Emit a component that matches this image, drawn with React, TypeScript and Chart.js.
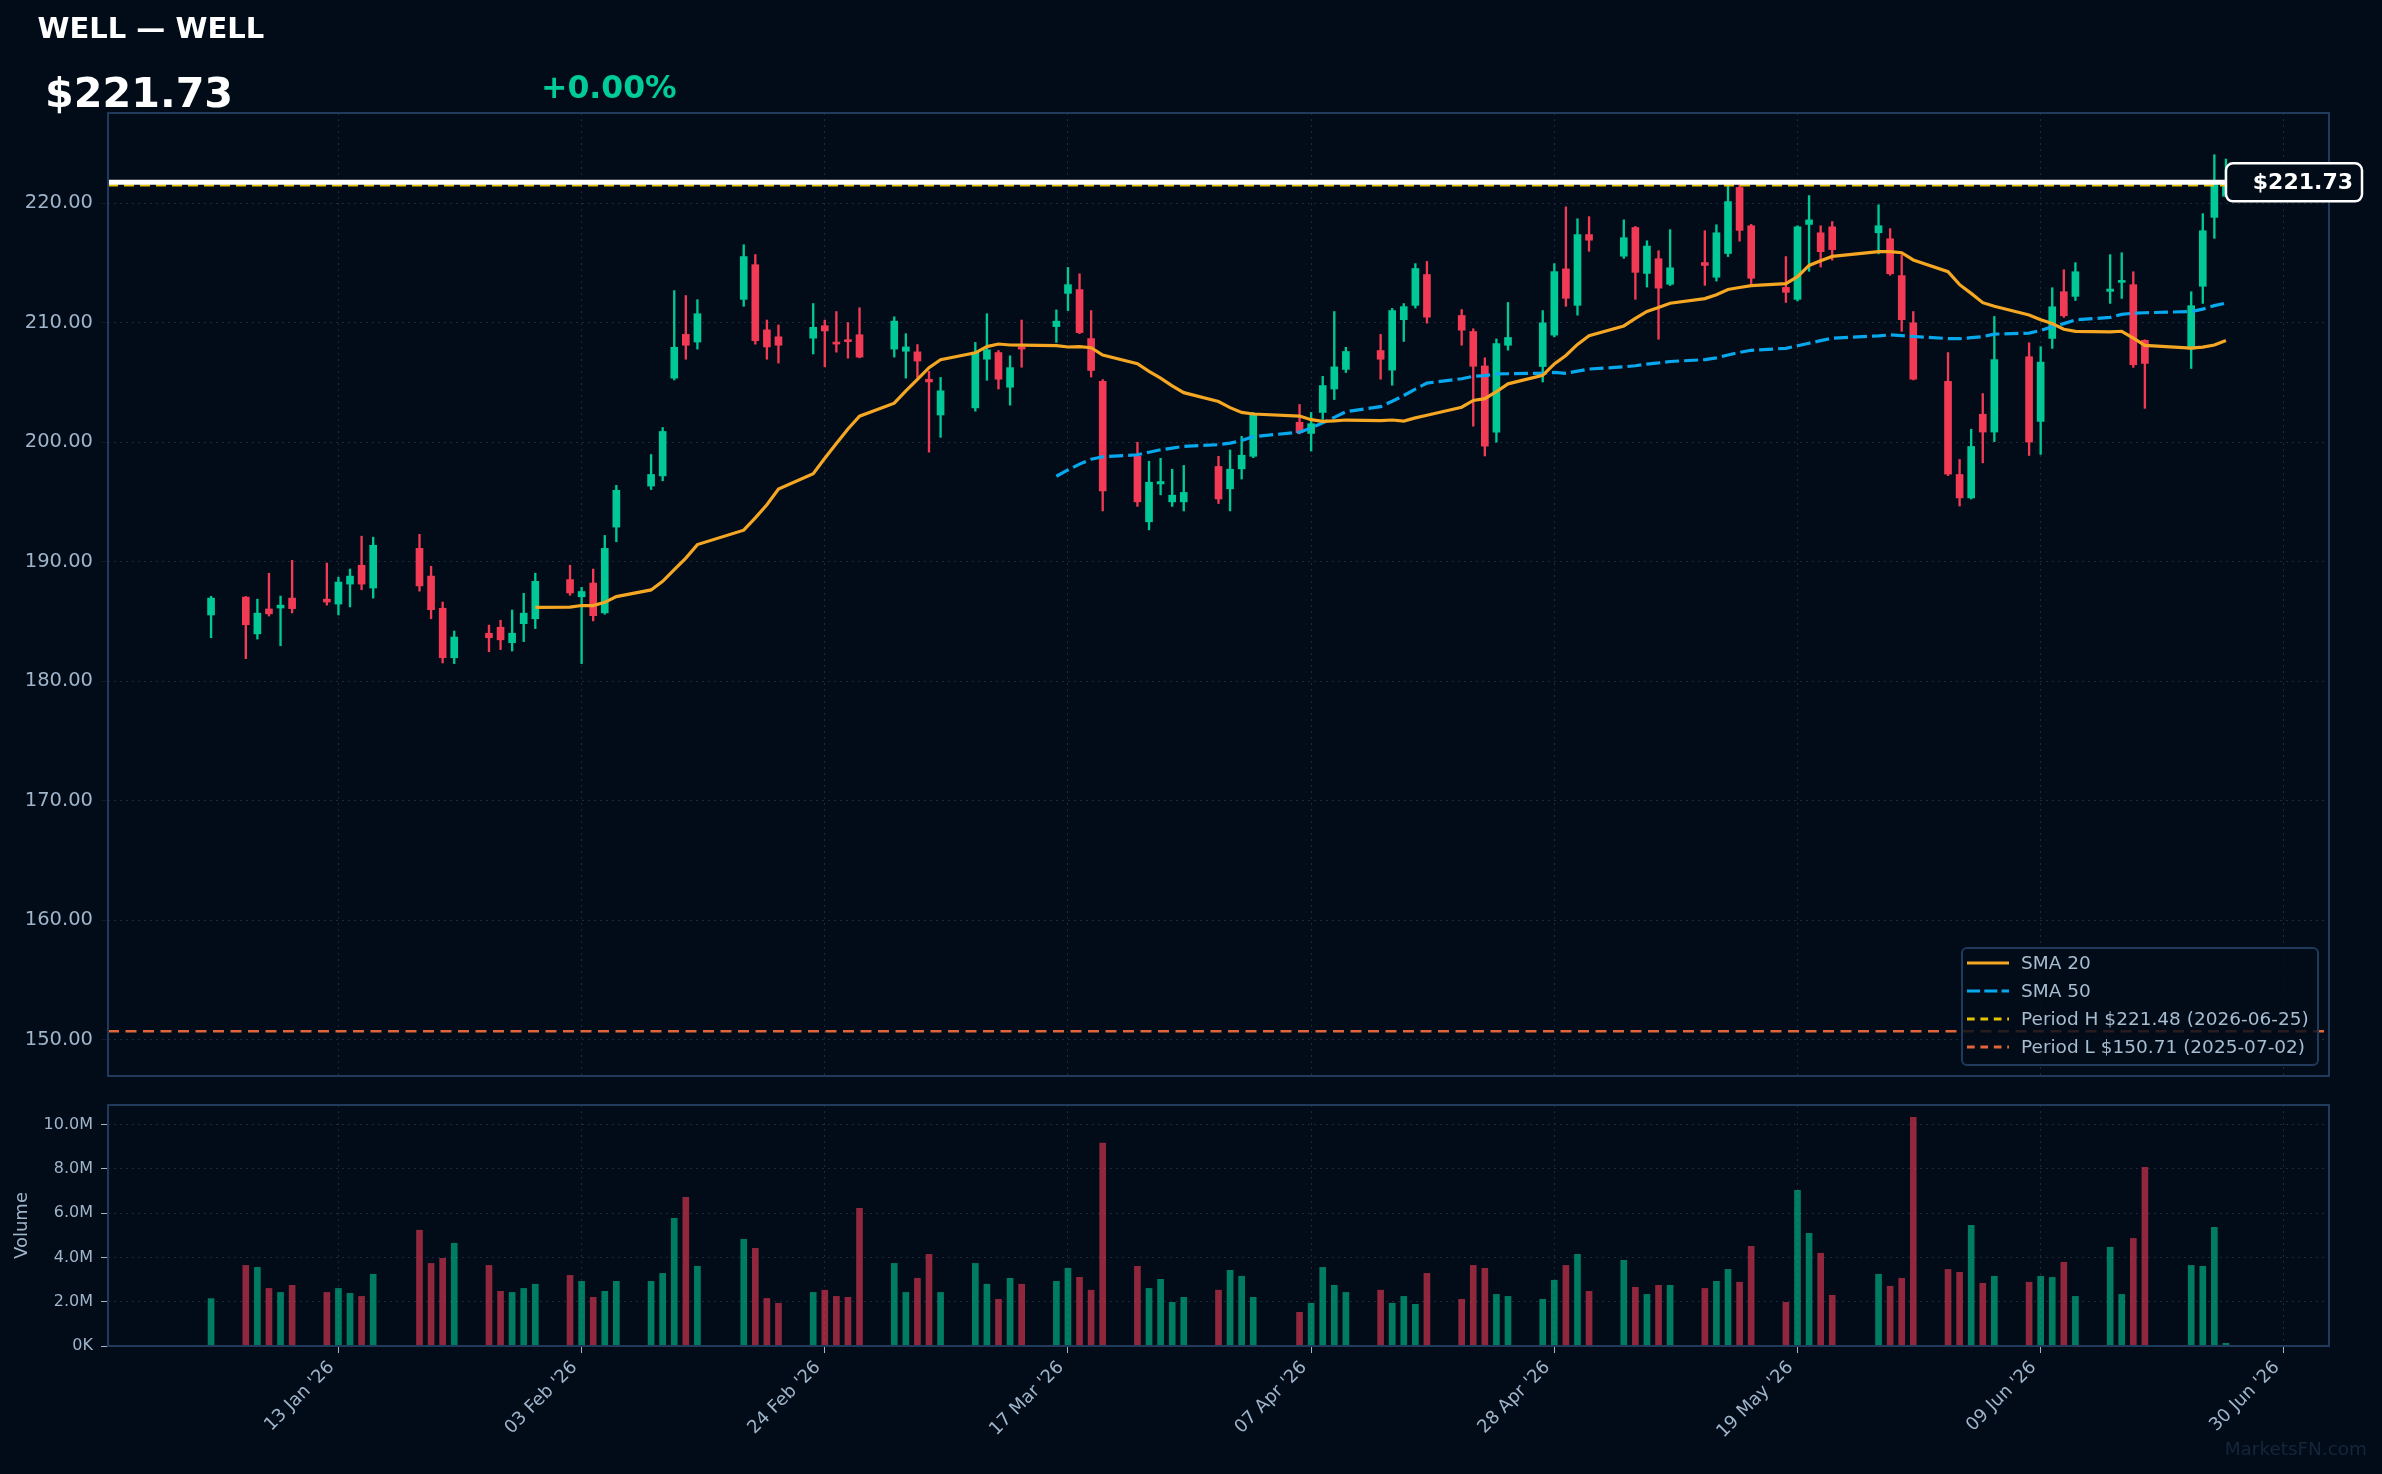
import React, { useEffect, useRef } from "react";
import { Chart, registerables } from "chart.js";

Chart.register(...registerables);

// ---------------- data ----------------
const tradeDates = [
  "2026-01-02", "2026-01-05", "2026-01-06", "2026-01-07", "2026-01-08", "2026-01-09",
  "2026-01-12", "2026-01-13", "2026-01-14", "2026-01-15", "2026-01-16",
  "2026-01-20", "2026-01-21", "2026-01-22", "2026-01-23",
  "2026-01-26", "2026-01-27", "2026-01-28", "2026-01-29", "2026-01-30",
  "2026-02-02", "2026-02-03", "2026-02-04", "2026-02-05", "2026-02-06",
  "2026-02-09", "2026-02-10", "2026-02-11", "2026-02-12", "2026-02-13",
  "2026-02-17", "2026-02-18", "2026-02-19", "2026-02-20",
  "2026-02-23", "2026-02-24", "2026-02-25", "2026-02-26", "2026-02-27",
  "2026-03-02", "2026-03-03", "2026-03-04", "2026-03-05", "2026-03-06",
  "2026-03-09", "2026-03-10", "2026-03-11", "2026-03-12", "2026-03-13",
  "2026-03-16", "2026-03-17", "2026-03-18", "2026-03-19", "2026-03-20",
  "2026-03-23", "2026-03-24", "2026-03-25", "2026-03-26", "2026-03-27",
  "2026-03-30", "2026-03-31", "2026-04-01", "2026-04-02",
  "2026-04-06", "2026-04-07", "2026-04-08", "2026-04-09", "2026-04-10",
  "2026-04-13", "2026-04-14", "2026-04-15", "2026-04-16", "2026-04-17",
  "2026-04-20", "2026-04-21", "2026-04-22", "2026-04-23", "2026-04-24",
  "2026-04-27", "2026-04-28", "2026-04-29", "2026-04-30", "2026-05-01",
  "2026-05-04", "2026-05-05", "2026-05-06", "2026-05-07", "2026-05-08",
  "2026-05-11", "2026-05-12", "2026-05-13", "2026-05-14", "2026-05-15",
  "2026-05-18", "2026-05-19", "2026-05-20", "2026-05-21", "2026-05-22",
  "2026-05-26", "2026-05-27", "2026-05-28", "2026-05-29",
  "2026-06-01", "2026-06-02", "2026-06-03", "2026-06-04", "2026-06-05",
  "2026-06-08", "2026-06-09", "2026-06-10", "2026-06-11", "2026-06-12",
  "2026-06-15", "2026-06-16", "2026-06-17", "2026-06-18",
  "2026-06-22", "2026-06-23", "2026-06-24", "2026-06-25",
];

const openPrices = [
  185.54, 187.03, 183.96, 186.04, 186.12, 186.95,
  186.86, 186.45, 188.12, 189.70, 187.79,
  191.11, 188.79, 186.10, 181.96,
  184.01, 184.51, 183.22, 184.81, 185.22,
  188.50, 187.06, 188.21, 185.71, 192.89,
  196.32, 197.17, 205.35, 209.01, 208.37,
  211.94, 214.84, 209.39, 208.81,
  208.69, 209.74, 208.30, 208.50, 208.98,
  207.78, 207.60, 207.55, 205.26, 202.27,
  202.86, 206.93, 207.49, 204.59, 207.90,
  209.66, 212.44, 212.76, 208.66, 205.08,
  198.81, 193.33, 196.50, 195.00, 195.00,
  197.96, 196.09, 197.76, 198.81,
  201.66, 200.72, 202.48, 204.44, 206.08,
  207.66, 206.02, 210.24, 211.44, 214.02,
  210.59, 209.25, 206.37, 200.84, 208.10,
  206.32, 208.95, 214.49, 211.44, 217.36,
  215.55, 217.95, 214.11, 215.34, 213.20,
  215.02, 213.79, 215.78, 221.30, 218.10,
  212.94, 211.94, 218.21, 217.51, 218.01,
  217.51, 217.01, 213.93, 209.98,
  205.08, 197.29, 195.33, 202.33, 200.84,
  207.14, 201.73, 208.67, 212.58, 212.19,
  212.61, 213.36, 213.17, 208.51,
  207.78, 213.03, 218.80, 220.56,
];

const highPrices = [
  187.10, 187.09, 186.86, 189.03, 187.12, 190.11,
  189.88, 188.70, 189.38, 192.13, 192.04,
  192.28, 189.61, 186.62, 184.19,
  184.69, 185.10, 185.95, 187.35, 189.03,
  189.70, 187.85, 189.38, 192.19, 196.38,
  198.96, 201.22, 212.67, 212.26, 211.91,
  216.51, 215.69, 210.21, 209.80,
  211.59, 210.21, 210.92, 210.00, 211.24,
  210.48, 209.07, 208.16, 205.93, 205.41,
  208.34, 210.74, 207.66, 207.22, 210.21,
  211.06, 214.61, 214.08, 211.00, 205.23,
  199.99, 198.40, 198.64, 197.73, 198.05,
  198.81, 199.34, 200.48, 202.48,
  203.15, 202.48, 205.50, 210.92, 207.93,
  209.01, 211.18, 211.59, 214.93, 215.11,
  211.09, 209.48, 207.05, 208.63, 211.68,
  211.00, 214.93, 219.68, 218.68, 218.86,
  218.59, 218.04, 216.84, 216.01, 217.77,
  217.68, 218.18, 221.60, 221.50, 218.21,
  215.52, 218.10, 220.62, 218.10, 218.45,
  219.85, 217.86, 215.66, 210.92,
  207.49, 198.55, 201.07, 204.06, 210.51,
  208.31, 207.98, 212.91, 214.42, 215.01,
  215.68, 215.84, 214.25, 208.56,
  212.58, 219.11, 224.04, 223.68,
];

const lowPrices = [
  183.63, 181.88, 183.52, 185.45, 182.96, 185.71,
  186.36, 185.54, 186.21, 187.65, 186.95,
  187.53, 185.22, 181.52, 181.47,
  182.46, 182.64, 182.52, 183.31, 184.40,
  187.18, 181.47, 185.04, 185.60, 191.66,
  196.03, 196.76, 205.20, 206.93, 207.78,
  211.36, 208.19, 206.93, 206.61,
  207.37, 206.29, 207.52, 207.02, 207.05,
  207.11, 205.35, 205.41, 199.16, 200.40,
  202.59, 205.17, 204.44, 203.09, 206.26,
  208.34, 211.00, 209.07, 205.44, 194.24,
  194.62, 192.66, 195.59, 194.62, 194.24,
  194.86, 194.24, 196.91, 198.70,
  200.69, 199.25, 201.89, 203.56, 205.82,
  205.26, 204.76, 208.42, 211.21, 209.95,
  208.10, 201.33, 198.84, 199.99, 207.69,
  205.03, 208.80, 211.36, 210.62, 215.96,
  215.37, 211.94, 212.97, 208.60, 213.10,
  213.11, 213.47, 215.52, 216.81, 213.26,
  211.68, 211.80, 214.29, 214.64, 215.22,
  215.75, 213.96, 209.27, 205.20,
  197.20, 194.65, 195.24, 198.26, 200.04,
  198.88, 198.97, 207.84, 210.43, 211.85,
  211.60, 212.02, 206.25, 202.82,
  206.16, 211.60, 217.04, 220.56,
];

const closePrices = [
  186.95, 184.72, 185.69, 185.63, 186.36, 186.07,
  186.62, 188.29, 188.79, 188.12, 191.37,
  187.97, 185.98, 181.96, 183.69,
  183.63, 183.46, 184.01, 185.69, 188.35,
  187.38, 187.50, 185.48, 191.11, 195.97,
  197.29, 200.89, 207.93, 208.10, 210.74,
  215.52, 208.48, 207.96, 208.10,
  209.60, 209.30, 208.20, 208.40, 207.11,
  210.12, 207.96, 206.78, 205.03, 204.29,
  207.52, 207.72, 205.26, 206.23, 207.78,
  210.12, 213.17, 209.16, 205.99, 195.91,
  195.00, 196.64, 196.70, 195.56, 195.79,
  195.24, 197.73, 198.90, 202.30,
  200.78, 201.54, 204.73, 206.29, 207.58,
  206.93, 211.00, 211.33, 214.52, 210.45,
  209.36, 206.34, 199.66, 208.25, 208.75,
  209.98, 214.26, 212.03, 217.36, 216.89,
  217.10, 214.20, 216.40, 212.88, 214.58,
  214.78, 217.51, 220.12, 217.71, 213.70,
  212.53, 218.01, 218.59, 215.93, 216.10,
  218.10, 214.08, 210.24, 205.26,
  197.32, 195.33, 199.63, 200.84, 206.90,
  200.00, 206.69, 211.32, 210.57, 214.25,
  212.80, 213.47, 206.47, 206.58,
  211.41, 217.68, 221.53, 221.73,
];

// volume in millions of shares
const volumeMillions = [
  2.14, 3.64, 3.55, 2.60, 2.42, 2.74,
  2.42, 2.60, 2.38, 2.24, 3.24,
  5.23, 3.73, 3.96, 4.64,
  3.64, 2.47, 2.42, 2.60, 2.79,
  3.19, 2.92, 2.20, 2.47, 2.92,
  2.92, 3.28, 5.77, 6.72, 3.60,
  4.82, 4.41, 2.15, 1.93,
  2.42, 2.52, 2.24, 2.20, 6.22,
  3.73, 2.42, 3.06, 4.14, 2.42,
  3.73, 2.79, 2.11, 3.06, 2.79,
  2.92, 3.51, 3.10, 2.52, 9.16,
  3.60, 2.60, 3.01, 1.97, 2.20,
  2.52, 3.42, 3.15, 2.20,
  1.52, 1.93, 3.55, 2.74, 2.42,
  2.52, 1.93, 2.24, 1.88, 3.28,
  2.11, 3.64, 3.51, 2.33, 2.24,
  2.11, 2.97, 3.64, 4.14, 2.47,
  3.87, 2.65, 2.33, 2.74, 2.74,
  2.60, 2.92, 3.46, 2.88, 4.50,
  1.97, 7.03, 5.09, 4.19, 2.29,
  3.24, 2.70, 3.06, 10.33,
  3.46, 3.33, 5.45, 2.83, 3.15,
  2.88, 3.15, 3.10, 3.78, 2.24,
  4.46, 2.33, 4.86, 8.07,
  3.64, 3.60, 5.36, 0.12,
];

const xTickDates = [
  "2026-01-13", "2026-02-03", "2026-02-24", "2026-03-17", "2026-04-07",
  "2026-04-28", "2026-05-19", "2026-06-09", "2026-06-30",
];
const xTickLabels = [
  "13 Jan '26", "03 Feb '26", "24 Feb '26", "17 Mar '26", "07 Apr '26",
  "28 Apr '26", "19 May '26", "09 Jun '26", "30 Jun '26",
];
const priceTicks = [150, 160, 170, 180, 190, 200, 210, 220];
const volumeTicksMillions = [0, 2, 4, 6, 8, 10];

const ticker = "WELL";
const companyName = "WELL";
const lastPrice = 221.73;
const changePct = 0.0;
const periodHigh = 221.48;
const periodHighDate = "2026-06-25";
const periodLow = 150.71;
const periodLowDate = "2025-07-02";

// ---------------- style ----------------
const BG = "#010c18";
const GREEN = "#00c896";
const RED = "#f23a55";
const GREEN_VOL = "rgba(0,200,150,0.6)";
const RED_VOL = "rgba(242,58,85,0.6)";
const ORANGE = "#f5a623";
const BLUE = "#08a8ee";
const YELLOW = "#e6c300";
const LOW_ORANGE = "#e2653a";
const SPINE = "#1f3a5a";
const GRID = "#1a2a3b";
const TICK_TEXT = "#a0b4ca";
const FONT = "'DejaVu Sans', sans-serif";

const X_MIN = -7.9;
const X_MAX = 183.9;

function dayIndex(s: string): number {
  const [y, m, d] = s.split("-").map(Number);
  return (Date.UTC(y, m - 1, d) - Date.UTC(2026, 0, 1)) / 86400000;
}

const xs = tradeDates.map(dayIndex);
const isUp = closePrices.map((c, i) => c >= openPrices[i]);
const xTickValues = xTickDates.map(dayIndex);

function sma(values: number[], n: number) {
  const out: { x: number; y: number }[] = [];
  for (let i = n - 1; i < values.length; i++) {
    let s = 0;
    for (let k = i - n + 1; k <= i; k++) s += values[k];
    out.push({ x: xs[i], y: s / n });
  }
  return out;
}

const legendItems = [
  { label: "SMA 20", color: ORANGE, dash: "" },
  { label: "SMA 50", color: BLUE, dash: "13 4.3" },
  { label: `Period H $${periodHigh.toFixed(2)} (${periodHighDate})`, color: YELLOW, dash: "7.7 5.7" },
  { label: `Period L $${periodLow.toFixed(2)} (${periodLowDate})`, color: LOW_ORANGE, dash: "7.7 5.7" },
];

const framePlugin = {
  id: "frame",
  afterDraw(chart: any) {
    const { ctx, chartArea } = chart;
    ctx.save();
    ctx.strokeStyle = SPINE;
    ctx.lineWidth = 2;
    ctx.strokeRect(chartArea.left, chartArea.top, chartArea.right - chartArea.left, chartArea.bottom - chartArea.top);
    ctx.restore();
  },
};

const priceTagPlugin = {
  id: "priceTag",
  afterDraw(chart: any) {
    const { ctx, chartArea } = chart;
    const y = chart.scales.y.getPixelForValue(lastPrice);
    const left = chartArea.right - 103;
    const right = chartArea.right + 33;
    const h = 38;
    ctx.save();
    ctx.beginPath();
    ctx.roundRect(left, y - h / 2, right - left, h, 7);
    ctx.fillStyle = BG;
    ctx.fill();
    ctx.lineWidth = 2.5;
    ctx.strokeStyle = "#ffffff";
    ctx.stroke();
    ctx.font = `bold 22px ${FONT}`;
    ctx.fillStyle = "#ffffff";
    ctx.textAlign = "right";
    ctx.textBaseline = "middle";
    ctx.fillText("$" + lastPrice.toFixed(2), right - 9, y + 1);
    ctx.restore();
  },
};

export default function App() {
  const mainRef = useRef<HTMLCanvasElement | null>(null);
  const volRef = useRef<HTMLCanvasElement | null>(null);

  useEffect(() => {
    Chart.defaults.font.family = FONT;
    const wickData = xs.map((x, i) => ({ x, y: [lowPrices[i], highPrices[i]] }));
    const bodyData = xs.map((x, i) => ({ x, y: [openPrices[i], closePrices[i]] }));
    const candleColors = isUp.map((u) => (u ? GREEN : RED));

    const mainChart = new Chart(mainRef.current as HTMLCanvasElement, {
      type: "bar",
      data: {
        datasets: [
          {
            type: "line",
            label: "Last",
            data: [{ x: X_MIN, y: lastPrice }, { x: X_MAX, y: lastPrice }],
            borderColor: "#ffffff",
            borderWidth: 5,
            pointRadius: 0,
            order: 0,
          },
          {
            type: "line",
            label: "Period H",
            data: [{ x: X_MIN, y: periodHigh }, { x: X_MAX, y: periodHigh }],
            borderColor: YELLOW,
            borderWidth: 2.2,
            borderDash: [10, 6],
            pointRadius: 0,
            order: 1,
          },
          {
            type: "line",
            label: "SMA 20",
            data: sma(closePrices, 20),
            borderColor: ORANGE,
            borderWidth: 3.2,
            pointRadius: 0,
            tension: 0,
            order: 2,
          },
          {
            type: "line",
            label: "SMA 50",
            data: sma(closePrices, 50),
            borderColor: BLUE,
            borderWidth: 3.2,
            borderDash: [14, 5],
            pointRadius: 0,
            tension: 0,
            order: 3,
          },
          {
            type: "line",
            label: "Period L",
            data: [{ x: X_MIN, y: periodLow }, { x: X_MAX, y: periodLow }],
            borderColor: LOW_ORANGE,
            borderWidth: 2.4,
            borderDash: [11, 6.5],
            pointRadius: 0,
            order: 4,
          },
          {
            type: "bar",
            label: "Body",
            data: bodyData as any,
            backgroundColor: candleColors,
            barThickness: 7,
            minBarLength: 2,
            grouped: false,
            order: 6,
          },
          {
            type: "bar",
            label: "Wick",
            data: wickData as any,
            backgroundColor: candleColors,
            barThickness: 1.7,
            grouped: false,
            order: 7,
          },
        ] as any,
      },
      options: {
        responsive: false,
        animation: false,
        devicePixelRatio: 1,
        layout: { padding: { left: 0, right: 53, top: 113, bottom: 24 } },
        plugins: { legend: { display: false }, tooltip: { enabled: false } },
        scales: {
          x: {
            type: "linear",
            min: X_MIN,
            max: X_MAX,
            offset: false,
            afterBuildTicks: (s: any) => {
              s.ticks = xTickValues.map((v) => ({ value: v }));
            },
            afterFit: (s: any) => {
              s.height = 0;
            },
            ticks: { display: false },
            grid: { color: GRID, lineWidth: 1, drawTicks: false, offset: false },
            border: { display: false, dash: [2, 4] },
          },
          y: {
            type: "linear",
            min: 146.97,
            max: 227.53,
            afterBuildTicks: (s: any) => {
              s.ticks = priceTicks.map((v) => ({ value: v }));
            },
            afterFit: (s: any) => {
              s.width = 108;
            },
            ticks: {
              color: TICK_TEXT,
              font: { size: 19.5 },
              padding: 8,
              callback: (v: any) => Number(v).toFixed(2),
            },
            grid: { color: GRID, lineWidth: 1, tickLength: 7, tickColor: "#0b1a2a" },
            border: { display: false, dash: [2, 4] },
          },
        },
      },
      plugins: [framePlugin, priceTagPlugin],
    } as any);

    const volChart = new Chart(volRef.current as HTMLCanvasElement, {
      type: "bar",
      data: {
        datasets: [
          {
            label: "Volume",
            data: xs.map((x, i) => ({ x, y: volumeMillions[i] * 1e6 })) as any,
            backgroundColor: isUp.map((u) => (u ? GREEN_VOL : RED_VOL)),
            barThickness: 6,
            grouped: false,
          },
        ],
      },
      options: {
        responsive: false,
        animation: false,
        devicePixelRatio: 1,
        layout: { padding: { left: 0, right: 53, top: 25, bottom: 0 } },
        plugins: { legend: { display: false }, tooltip: { enabled: false } },
        scales: {
          x: {
            type: "linear",
            min: X_MIN,
            max: X_MAX,
            offset: false,
            afterBuildTicks: (s: any) => {
              s.ticks = xTickValues.map((v) => ({ value: v }));
            },
            afterFit: (s: any) => {
              s.height = 128;
            },
            ticks: {
              color: TICK_TEXT,
              font: { size: 18 },
              minRotation: 45,
              maxRotation: 45,
              autoSkip: false,
              padding: 4,
              labelOffset: -7,
              callback: (v: any) => {
                const i = xTickValues.indexOf(Number(v));
                return i >= 0 ? xTickLabels[i] : "";
              },
            },
            grid: { color: GRID, lineWidth: 1, tickLength: 7, tickColor: TICK_TEXT, offset: false },
            border: { display: false, dash: [2, 4] },
          },
          y: {
            type: "linear",
            min: 0,
            max: 10.885e6,
            afterBuildTicks: (s: any) => {
              s.ticks = volumeTicksMillions.map((v) => ({ value: v * 1e6 }));
            },
            afterFit: (s: any) => {
              s.width = 108;
            },
            ticks: {
              color: TICK_TEXT,
              font: { size: 16 },
              padding: 8,
              callback: (v: any) => {
                const m = Number(v) / 1e6;
                return m === 0 ? "0K" : m.toFixed(1) + "M";
              },
            },
            title: {
              display: true,
              text: "Volume",
              color: TICK_TEXT,
              font: { size: 18 },
              padding: { top: 12, bottom: 0 },
            },
            grid: { color: GRID, lineWidth: 1, tickLength: 7, tickColor: TICK_TEXT },
            border: { display: false, dash: [2, 4] },
          },
        },
      },
      plugins: [framePlugin],
    } as any);

    return () => {
      mainChart.destroy();
      volChart.destroy();
    };
  }, []);

  const changeText = `${changePct >= 0 ? "+" : ""}${changePct.toFixed(2)}%`;

  return (
    <div
      style={{
        position: "absolute",
        left: 0,
        top: 0,
        width: 2382,
        height: 1474,
        background: BG,
        overflow: "hidden",
        fontFamily: FONT,
      }}
    >
      <canvas
        ref={mainRef}
        width={2382}
        height={1100}
        style={{ position: "absolute", left: 0, top: 0, width: 2382, height: 1100 }}
      />
      <canvas
        ref={volRef}
        width={2382}
        height={394}
        style={{ position: "absolute", left: 0, top: 1080, width: 2382, height: 394 }}
      />
      <div
        style={{
          position: "absolute",
          left: 37.5,
          top: 13.5,
          fontSize: 29,
          lineHeight: 1,
          fontWeight: "bold",
          color: "#ffffff",
          whiteSpace: "nowrap",
        }}
      >
        {`${ticker} \u2014 ${companyName}`}
      </div>
      <div
        style={{
          position: "absolute",
          left: 45,
          top: 73.4,
          fontSize: 41.3,
          lineHeight: 1,
          fontWeight: "bold",
          color: "#ffffff",
          whiteSpace: "nowrap",
        }}
      >
        {"$" + lastPrice.toFixed(2)}
      </div>
      <div
        style={{
          position: "absolute",
          left: 541,
          top: 71.7,
          fontSize: 31.5,
          lineHeight: 1,
          fontWeight: "bold",
          color: "#00cc99",
          whiteSpace: "nowrap",
        }}
      >
        {changeText}
      </div>
      <div
        style={{
          position: "absolute",
          left: 1961,
          top: 947,
          width: 358,
          height: 119,
          boxSizing: "border-box",
          border: `2px solid ${SPINE}`,
          borderRadius: 6,
          background: "rgba(1,12,24,0.82)",
        }}
      >
        {legendItems.map((it) => (
          <div key={it.label} style={{ display: "flex", alignItems: "center", height: 28 }}>
            <svg width={42} height={28} style={{ marginLeft: 4, flex: "none" }}>
              <line
                x1={0}
                y1={14}
                x2={42}
                y2={14}
                stroke={it.color}
                strokeWidth={3}
                strokeDasharray={it.dash || undefined}
              />
            </svg>
            <span
              style={{
                marginLeft: 12,
                fontSize: 18.5,
                lineHeight: "28px",
                color: "#a8bcd0",
                whiteSpace: "nowrap",
              }}
            >
              {it.label}
            </span>
          </div>
        ))}
      </div>
      <div
        style={{
          position: "absolute",
          right: 15,
          top: 1439.5,
          fontSize: 18.4,
          lineHeight: 1,
          color: "#16263a",
          whiteSpace: "nowrap",
        }}
      >
        MarketsFN.com
      </div>
    </div>
  );
}
